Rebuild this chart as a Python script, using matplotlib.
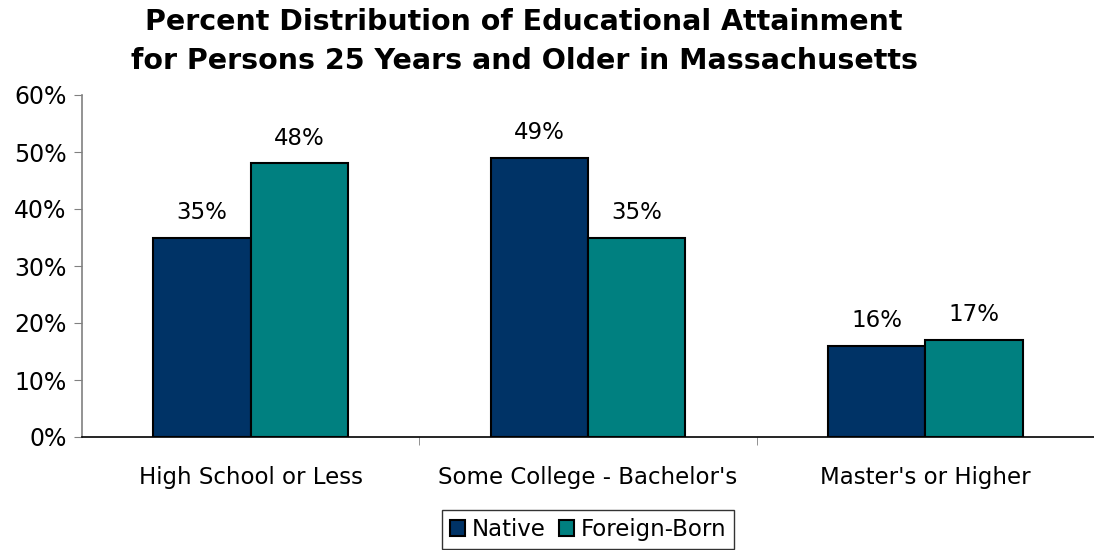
import matplotlib
matplotlib.use("Agg")
import matplotlib.pyplot as plt
import numpy as np

categories = ["High School or Less", "Some College - Bachelor's", "Master's or Higher"]
native = [35, 49, 16]
foreign = [48, 35, 17]
series_names = ["Native", "Foreign-Born"]
yticks = [0, 10, 20, 30, 40, 50, 60]

plt.rcParams['font.family'] = ['DejaVu Sans']
fig = plt.figure(figsize=(10.94, 5.5), dpi=100)
ax = fig.add_axes([82/1094, 113/550, 1 - 82/1094, (437-95)/550])

x = np.arange(len(categories))
w = 0.289
c_native = "#003366"
c_foreign = "#008080"
b1 = ax.bar(x - w/2, native, w, color=c_native, edgecolor="black", linewidth=1.5, label=series_names[0])
b2 = ax.bar(x + w/2, foreign, w, color=c_foreign, edgecolor="black", linewidth=1.5, label=series_names[1])

for bars, vals in ((b1, native), (b2, foreign)):
    for r, v in zip(bars, vals):
        ax.annotate(f"{v}%", (r.get_x() + r.get_width()/2, v), xytext=(0, 10),
                    textcoords="offset points", ha="center", va="bottom", fontsize=16.5)

ax.set_xlim(-0.5, 2.5)
ax.set_ylim(0, 60)
ax.set_yticks(yticks)
ax.set_yticklabels([f"{t}%" for t in yticks], fontsize=17)
ax.set_xticks(x)
ax.set_xticklabels(categories, fontsize=16.5)
ax.tick_params(axis='x', length=0, pad=21)
ax.set_xticks([0.5, 1.5], minor=True)
ax.tick_params(axis='x', which='minor', length=6, color='gray')
ax.tick_params(axis='y', length=6, color='gray', pad=5)
for s in ("top", "right"):
    ax.spines[s].set_visible(False)
ax.spines["left"].set_color("gray")
ax.spines["left"].set_linewidth(1.2)
ax.spines["bottom"].set_color("black")
ax.spines["bottom"].set_linewidth(1.2)

fig.suptitle("Percent Distribution of Educational Attainment\nfor Persons 25 Years and Older in Massachusetts",
             fontsize=20.5, fontweight="bold", x=0.479, y=0.985, linespacing=1.5)

leg = ax.legend(loc="upper center", bbox_to_anchor=(0.5, -0.18), ncol=2, fontsize=16.5,
                frameon=True, fancybox=False, edgecolor="black", handlelength=0.65, handleheight=0.65,
                handletextpad=0.3, columnspacing=0.6, borderpad=0.35)
leg.get_frame().set_linewidth(1.0)

fig.savefig("out.png", dpi=100)
